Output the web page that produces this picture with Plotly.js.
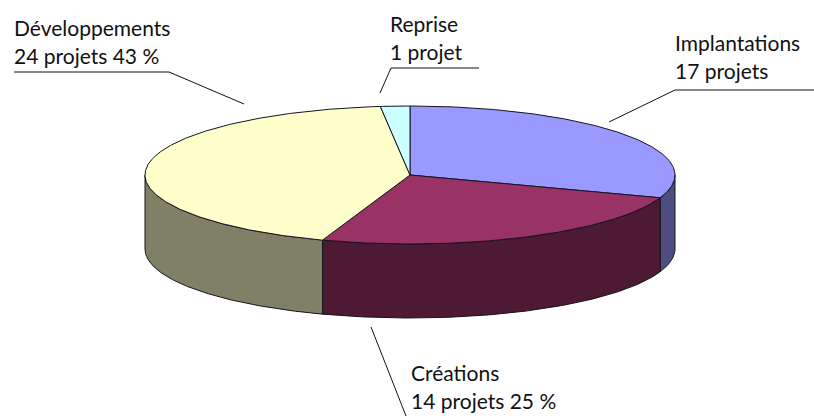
<!DOCTYPE html>
<html>
<head>
<meta charset="utf-8">
<script src="https://cdn.plot.ly/plotly-3.0.1.min.js"></script>
<style>html,body{margin:0;padding:0;background:#fff}#c{width:814px;height:416px}</style>
</head>
<body>
<div id="c"></div>
<script>
var categories = ['Implantations', 'Créations', 'Développements', 'Reprise'];
var projects = [17, 14, 24, 1];
var topColors = ['#9999FF', '#993366', '#FFFFCC', '#CCFFFF'];
var sideColors = ['#4D4D80', '#4D1933', '#808066', '#668080'];
var labelLines = ['Développements', '24 projets 43 %', 'Reprise', '1 projet', 'Implantations', '17 projets', 'Créations', '14 projets 25 %'];
var labelX = [12.5, 12.5, 388.5, 388.5, 673.5, 673.5, 409.5, 409.5];
var labelY = [27, 55, 23, 51, 42, 70, 372, 400];
var leaders = [
  {x: [14, 169, 244], y: [72, 72, 104]},
  {x: [479, 391, 380], y: [68, 68, 93]},
  {x: [814, 675, 609], y: [90, 90, 122]},
  {x: [371, 406], y: [327, 416]}
];

var cx = 410, cy = 175, rx = 265, ry = 69, depth = 74;
var edge = '#14141f';
var total = projects.reduce(function (a, b) { return a + b; }, 0);

function px(t) { return cx + rx * Math.sin(t); }
function py(t) { return cy - ry * Math.cos(t); }
function arc(a, b) {
  var n = Math.max(2, Math.ceil(Math.abs(b - a) / 0.01)), ts = [];
  for (var i = 0; i <= n; i++) ts.push(a + (b - a) * i / n);
  return ts;
}

var sides = [], tops = [], acc = 0;
projects.forEach(function (v, i) {
  var a = acc / total * 2 * Math.PI;
  acc += v;
  var b = acc / total * 2 * Math.PI;
  var ts = arc(a, b);
  tops.push({
    x: [cx].concat(ts.map(px), [cx]),
    y: [cy].concat(ts.map(py), [cy]),
    mode: 'lines', fill: 'toself', fillcolor: topColors[i],
    line: {color: edge, width: 1}, hoverinfo: 'skip', showlegend: false, name: categories[i]
  });
  var s = Math.max(a, Math.PI / 2), e = Math.min(b, 3 * Math.PI / 2);
  if (e > s) {
    var ss = arc(s, e);
    var xs = ss.map(px), yt = ss.map(py);
    var yb = yt.map(function (y) { return y + depth; });
    sides.push({
      x: xs.concat(xs.slice().reverse(), [xs[0]]),
      y: yt.concat(yb.slice().reverse(), [yt[0]]),
      mode: 'lines', fill: 'toself', fillcolor: sideColors[i],
      line: {color: edge, width: 1}, hoverinfo: 'skip', showlegend: false, name: categories[i] + ' (côté)'
    });
  }
});

var leaderTraces = leaders.map(function (l) {
  return {x: l.x, y: l.y, mode: 'lines', line: {color: '#111', width: 1}, hoverinfo: 'skip', showlegend: false};
});

var annotations = labelLines.map(function (t, i) {
  return {
    text: t, x: labelX[i], y: labelY[i], xref: 'x', yref: 'y',
    xanchor: 'left', yanchor: 'middle', showarrow: false, borderpad: 0,
    font: {family: 'Lato, sans-serif', size: 21, color: '#111'}
  };
});

Plotly.newPlot('c', sides.concat(tops, leaderTraces), {
  width: 814, height: 416,
  margin: {l: 0, r: 0, t: 0, b: 0},
  paper_bgcolor: '#fff', plot_bgcolor: '#fff',
  showlegend: false,
  xaxis: {range: [0, 814], visible: false, fixedrange: true},
  yaxis: {range: [416, 0], visible: false, fixedrange: true},
  annotations: annotations
}, {displayModeBar: false, staticPlot: true});
</script>
</body>
</html>
